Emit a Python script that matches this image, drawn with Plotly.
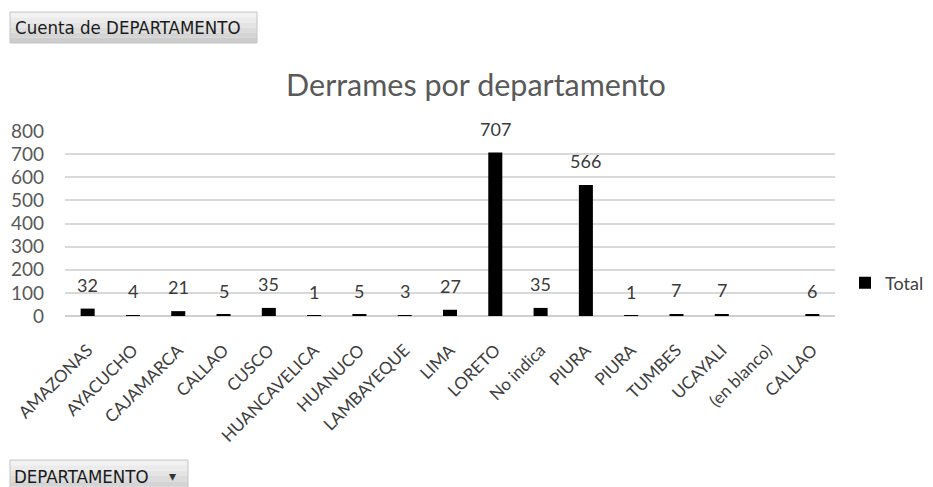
import plotly.graph_objects as go

categories = ["AMAZONAS", "AYACUCHO", "CAJAMARCA", "CALLAO", "CUSCO", "HUANCAVELICA",
              "HUANUCO", "LAMBAYEQUE", "LIMA", "LORETO", "No indica", "PIURA", "PIURA",
              "TUMBES", "UCAYALI", "(en blanco)", "CALLAO"]
values = [32, 4, 21, 5, 35, 1, 5, 3, 27, 707, 35, 566, 1, 7, 7, None, 6]
y_ticks = [0, 100, 200, 300, 400, 500, 600, 700, 800]

W, H = 933, 487
L, R, T, B = 65, 98, 131, 171
PW, PH = W - L - R, H - T - B

def px_x(px):
    return (px - L) / PW

def px_y(py):
    return (H - B - py) / PH

positions = list(range(len(categories)))

fig = go.Figure()
fig.add_trace(go.Bar(
    x=positions, y=values, name="Total",
    marker=dict(color="#000000", line=dict(width=0)),
    width=0.31,
))

for xi, v in zip(positions, values):
    if v is None:
        continue
    fig.add_annotation(x=xi, y=v, text=str(v), showarrow=False,
                       yanchor="middle", yshift=24,
                       font=dict(family="Lato", size=18, color="#3a3a3a"))

# pivot-table field buttons
def button(x0, y0, x1, y1, label, tx, arrow_x=None):
    steps = 6
    shades = ["#f2f2f2", "#ebebeb", "#e4e4e4", "#dcdcdc", "#d4d4d4", "#cccccc"]
    hh = (y1 - y0) / steps
    for i in range(steps):
        fig.add_shape(type="rect", xref="paper", yref="paper",
                      x0=px_x(x0), x1=px_x(x1),
                      y0=px_y(y0 + hh * i), y1=px_y(y0 + hh * (i + 1)),
                      fillcolor=shades[i], line=dict(width=0), layer="below")
    fig.add_shape(type="rect", xref="paper", yref="paper",
                  x0=px_x(x0), x1=px_x(x1), y0=px_y(y0), y1=px_y(y1),
                  fillcolor="rgba(0,0,0,0)", line=dict(color="#c4c4c4", width=1))
    fig.add_annotation(xref="paper", yref="paper", x=px_x(tx), y=px_y((y0 + y1) / 2),
                       text=label, showarrow=False, xanchor="left", yanchor="middle",
                       font=dict(family="DejaVu Sans Condensed", size=18.5, color="#1a1a1a"))
    if arrow_x is not None:
        fig.add_annotation(xref="paper", yref="paper", x=px_x(arrow_x), y=px_y((y0 + y1) / 2),
                           text="▾", showarrow=False, xanchor="center", yanchor="middle",
                           font=dict(family="DejaVu Sans", size=14, color="#333333"))

button(10, 12, 257, 43, "Cuenta de DEPARTAMENTO", 13)
button(10, 460, 188, 492, "DEPARTAMENTO", 12, arrow_x=172)

fig.update_layout(
    width=W, height=H,
    margin=dict(l=L, r=R, t=T, b=B, autoexpand=False),
    paper_bgcolor="white", plot_bgcolor="white",
    title=dict(text="Derrames por departamento", x=476 / W, xanchor="center",
               y=1 - 85 / H, yanchor="middle", yref="container",
               font=dict(family="Lato", size=30.5, color="#595959")),
    showlegend=True,
    legend=dict(xref="container", yref="container", x=845 / W, y=1 - 283 / H,
                xanchor="left", yanchor="middle",
                font=dict(family="Lato", size=18, color="#404040"),
                itemwidth=30, bgcolor="rgba(0,0,0,0)"),
    bargap=0.69,
)
fig.update_xaxes(tickmode="array", tickvals=positions, ticktext=categories,
                 range=[-0.5, len(categories) - 0.5], tickangle=-45,
                 showgrid=False, showline=False, ticks="", automargin=False,
                 ticklabelstandoff=20,
                 tickfont=dict(family="Lato", size=17, color="#404040"))
fig.update_yaxes(range=[0, 800], tickmode="array", tickvals=y_ticks,
                 showgrid=True, gridcolor="#d9d9d9", gridwidth=1.5,
                 zeroline=True, zerolinecolor="#d0d0d0", zerolinewidth=1.5,
                 ticks="", ticklabelstandoff=20, automargin=False,
                 tickfont=dict(family="Lato", size=19, color="#595959"))

fig.write_html("out.html", config={"displayModeBar": False},
               post_script="document.body.style.margin='0px';document.body.style.overflow='hidden';")
